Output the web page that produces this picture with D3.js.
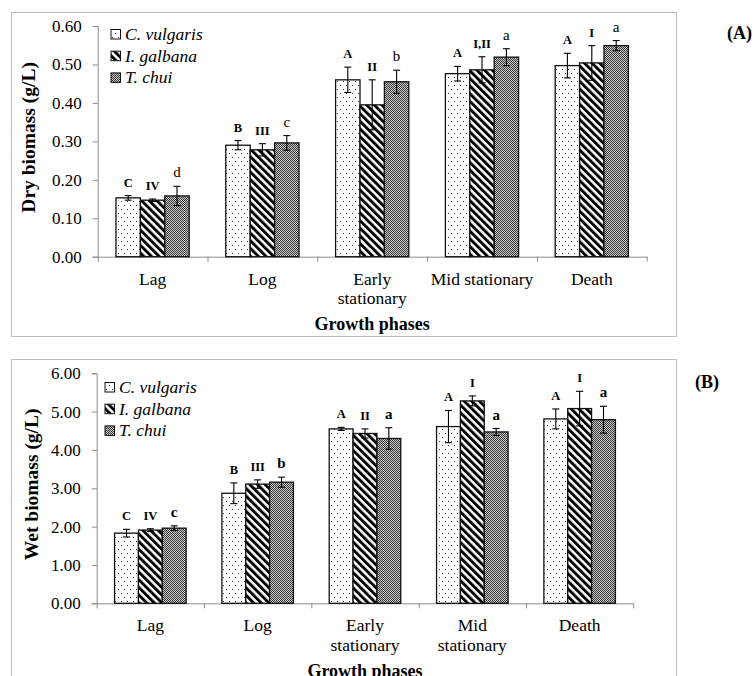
<!DOCTYPE html>
<html><head><meta charset="utf-8">
<script src="https://cdn.jsdelivr.net/npm/d3@7/dist/d3.min.js"></script>
<style>body{margin:0;background:#fff} svg{display:block}</style>
</head><body>
<script>
// ---------- data ----------
const phases = ["Lag", "Log", "Early stationary", "Mid stationary", "Death"];
const phaseLinesA = [["Lag"], ["Log"], ["Early", "stationary"], ["Mid stationary"], ["Death"]];
const phaseLinesB = [["Lag"], ["Log"], ["Early", "stationary"], ["Mid", "stationary"], ["Death"]];
const species = ["C. vulgaris", "I. galbana", "T. chui"];

// (A) Dry biomass (g/L)
const dryCVulgaris = [0.153, 0.290, 0.460, 0.476, 0.497];
const dryIGalbana  = [0.147, 0.278, 0.395, 0.486, 0.504];
const dryTChui     = [0.158, 0.296, 0.455, 0.519, 0.549];
const dryErrCVulgaris = [0.006, 0.012, 0.033, 0.019, 0.032];
const dryErrIGalbana  = [0.003, 0.016, 0.065, 0.034, 0.045];
const dryErrTChui     = [0.025, 0.019, 0.030, 0.022, 0.013];
const dryLetCVulgaris = ["C", "B", "A", "A", "A"];
const dryLetIGalbana  = ["IV", "III", "II", "I,II", "I"];
const dryLetTChui     = ["d", "c", "b", "a", "a"];
const dryTicks = [0, 0.1, 0.2, 0.3, 0.4, 0.5, 0.6];

// (B) Wet biomass (g/L)
const wetCVulgaris = [1.83, 2.87, 4.55, 4.61, 4.81];
const wetIGalbana  = [1.91, 3.11, 4.43, 5.28, 5.08];
const wetTChui     = [1.96, 3.16, 4.30, 4.47, 4.79];
const wetErrCVulgaris = [0.10, 0.27, 0.04, 0.42, 0.26];
const wetErrIGalbana  = [0.035, 0.11, 0.12, 0.13, 0.45];
const wetErrTChui     = [0.06, 0.13, 0.28, 0.09, 0.35];
const wetLetCVulgaris = ["C", "B", "A", "A", "A"];
const wetLetIGalbana  = ["IV", "III", "II", "I", "I"];
const wetLetTChui     = ["c", "b", "a", "a", "a"];
const wetTicks = [0, 1, 2, 3, 4, 5, 6];

// ---------- drawing ----------
const FONT = "'Liberation Serif','Times New Roman',serif";
const svg = d3.select("body").append("svg").attr("width", 755).attr("height", 676)
  .style("font-family", FONT);
svg.append("rect").attr("width", 755).attr("height", 676).attr("fill", "#fff");

const defs = svg.append("defs");
// dotted
const pDot = defs.append("pattern").attr("id", "pDot").attr("patternUnits", "userSpaceOnUse")
  .attr("width", 6).attr("height", 8);
pDot.append("rect").attr("width", 6).attr("height", 8).attr("fill", "#fff");
pDot.append("rect").attr("x", 1).attr("y", 1).attr("width", 1).attr("height", 1).attr("fill", "#333");
pDot.append("rect").attr("x", 4).attr("y", 5).attr("width", 1).attr("height", 1).attr("fill", "#333");
// wide downward diagonal
const pDiag = defs.append("pattern").attr("id", "pDiag").attr("patternUnits", "userSpaceOnUse")
  .attr("width", 5.4).attr("height", 10).attr("patternTransform", "rotate(-45)");
pDiag.append("rect").attr("width", 5.4).attr("height", 10).attr("fill", "#fff");
pDiag.append("rect").attr("width", 2.9).attr("height", 10).attr("fill", "#000");
// small checker
const pChk = defs.append("pattern").attr("id", "pChk").attr("patternUnits", "userSpaceOnUse")
  .attr("width", 2).attr("height", 2);
pChk.append("rect").attr("width", 2).attr("height", 2).attr("fill", "#c8c8c8");
pChk.append("rect").attr("width", 1).attr("height", 1).attr("fill", "#3a3a3a");
pChk.append("rect").attr("x", 1).attr("y", 1).attr("width", 1).attr("height", 1).attr("fill", "#3a3a3a");
const fills = ["url(#pDot)", "url(#pDiag)", "url(#pChk)"];

function panel(cfg) {
  const g = svg.append("g");
  // frame
  g.append("rect").attr("x", cfg.frame[0] + 0.5).attr("y", cfg.frame[1] + 0.5)
    .attr("width", cfg.frame[2]).attr("height", cfg.frame[3])
    .attr("fill", "none").attr("stroke", "#bdbdbd").attr("stroke-width", 1);

  const x0 = d3.scaleBand().domain(phases).range([cfg.left, cfg.right]).paddingInner(0).paddingOuter(0);
  const cw = x0.bandwidth();
  const bw = cw / 4.5;
  const x1 = d3.scaleBand().domain(species).range([0, 3 * bw]);
  const y = d3.scaleLinear().domain([0, cfg.ticks[cfg.ticks.length - 1]]).range([cfg.bottom, cfg.top]);

  // y axis
  const ya = g.append("g").attr("transform", `translate(${cfg.left},0)`)
    .call(d3.axisLeft(y).tickValues(cfg.ticks).tickFormat(d3.format(".2f")).tickSize(5).tickPadding(11));
  ya.select(".domain").attr("stroke", "#8c8c8c");
  ya.selectAll(".tick line").attr("stroke", "#8c8c8c");
  ya.selectAll(".tick text").attr("fill", "#000").style("font-family", FONT).style("font-size", "17px");

  // x axis (category boundaries)
  const xb = d3.scaleLinear().domain([0, phases.length]).range([cfg.left, cfg.right]);
  const xa = g.append("g").attr("transform", `translate(0,${cfg.bottom})`)
    .call(d3.axisBottom(xb).tickValues(d3.range(phases.length + 1)).tickFormat("").tickSize(5).tickSizeOuter(0));
  xa.select(".domain").attr("stroke", "#8c8c8c");
  xa.selectAll(".tick line").attr("stroke", "#8c8c8c");

  // category labels
  phases.forEach((p, i) => {
    const t = g.append("text").attr("x", x0(p) + cw / 2).attr("y", cfg.bottom + 28)
      .attr("text-anchor", "middle").style("font-size", "17.5px").attr("fill", "#000");
    cfg.lines[i].forEach((ln, k) => t.append("tspan").attr("x", x0(p) + cw / 2).attr("dy", k ? 19.5 : 0).text(ln));
  });

  // bars
  cfg.series.forEach((vals, s) => {
    const gx = (p) => x0(p) + (cw - 3 * bw) / 2 + x1(species[s]);
    g.append("g").selectAll("rect").data(vals).join("rect")
      .attr("x", (d, i) => gx(phases[i]))
      .attr("y", d => y(d))
      .attr("width", bw)
      .attr("height", d => y(0) - y(d))
      .attr("fill", fills[s]).attr("stroke", "#111").attr("stroke-width", 1.3);
  });
  // error bars + letters
  cfg.series.forEach((vals, s) => {
    const cx = (i) => x0(phases[i]) + (cw - 3 * bw) / 2 + x1(species[s]) + bw / 2;
    vals.forEach((v, i) => {
      const e = cfg.errs[s][i];
      const eb = g.append("g").attr("stroke", "#000").attr("stroke-width", 1.1);
      eb.append("line").attr("x1", cx(i)).attr("x2", cx(i)).attr("y1", y(v - e)).attr("y2", y(v + e));
      eb.append("line").attr("x1", cx(i) - 3.5).attr("x2", cx(i) + 3.5).attr("y1", y(v - e)).attr("y2", y(v - e));
      eb.append("line").attr("x1", cx(i) - 3.5).attr("x2", cx(i) + 3.5).attr("y1", y(v + e)).attr("y2", y(v + e));
      const lab = cfg.letters[s][i];
      const lower = lab === lab.toLowerCase();
      g.append("text").attr("x", cx(i)).attr("y", y(v + e) - 9)
        .attr("text-anchor", "middle").attr("fill", "#000")
        .style("font-size", lower ? "15px" : "12.5px")
        .style("font-weight", (lower && !cfg.boldLower) ? "normal" : "bold")
        .text(lab);
    });
  });

  // legend
  species.forEach((sp, s) => {
    const ly = cfg.legend[1] + s * 21.7;
    g.append("rect").attr("x", cfg.legend[0]).attr("y", ly - 10.5).attr("width", 9.5).attr("height", 9.5)
      .attr("fill", fills[s]).attr("stroke", "#111").attr("stroke-width", 1);
    g.append("text").attr("x", cfg.legend[0] + 14).attr("y", ly).style("font-style", "italic")
      .style("font-size", "17.5px").attr("fill", "#000").text(sp);
  });

  // axis titles
  g.append("text").attr("transform", `translate(${cfg.ytitleX},${(cfg.top + cfg.bottom) / 2 - 4}) rotate(-90)`)
    .attr("text-anchor", "middle").style("font-weight", "bold").style("font-size", "19.5px")
    .attr("fill", "#000").text(cfg.ytitle);
  g.append("text").attr("x", (cfg.left + cfg.right) / 2).attr("y", cfg.xtitleY)
    .attr("text-anchor", "middle").style("font-weight", "bold").style("font-size", "18px")
    .attr("fill", "#000").text("Growth phases");
  g.append("text").attr("x", cfg.tag[0]).attr("y", cfg.tag[1]).style("font-weight", "bold")
    .style("font-size", "18px").attr("fill", "#000").text(cfg.tagText);
}

panel({
  frame: [11, 12, 665, 324], left: 97.7, right: 646.7, top: 26, bottom: 256.7,
  ticks: dryTicks, lines: phaseLinesA,
  series: [dryCVulgaris, dryIGalbana, dryTChui],
  errs: [dryErrCVulgaris, dryErrIGalbana, dryErrTChui],
  letters: [dryLetCVulgaris, dryLetIGalbana, dryLetTChui], boldLower: false,
  legend: [111, 40], ytitle: "Dry biomass (g/L)", ytitleX: 35, xtitleY: 330,
  tag: [727, 39], tagText: "(A)"
});
panel({
  frame: [11, 359, 665, 340], left: 96.7, right: 633.3, top: 373.3, bottom: 603.3,
  ticks: wetTicks, lines: phaseLinesB,
  series: [wetCVulgaris, wetIGalbana, wetTChui],
  errs: [wetErrCVulgaris, wetErrIGalbana, wetErrTChui],
  letters: [wetLetCVulgaris, wetLetIGalbana, wetLetTChui], boldLower: true,
  legend: [105, 393], ytitle: "Wet biomass (g/L)", ytitleX: 38, xtitleY: 677,
  tag: [695, 388], tagText: "(B)"
});
</script>
</body></html>
